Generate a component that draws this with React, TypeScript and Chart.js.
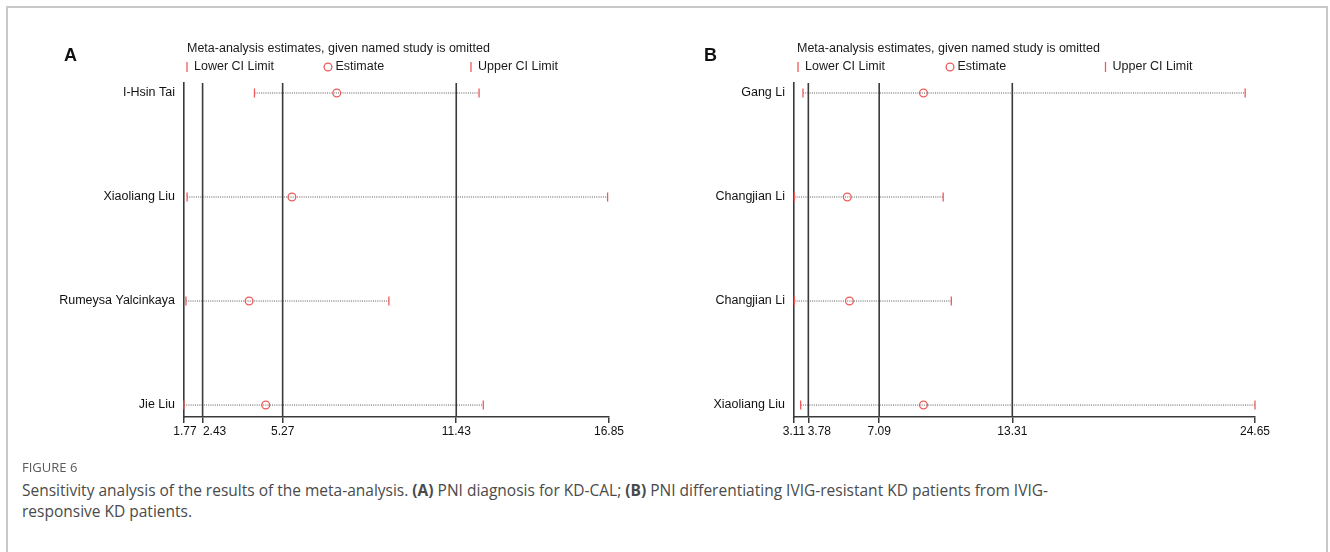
import React, { useEffect, useRef } from "react";
import { Chart, registerables } from "chart.js";

Chart.register(...registerables);

// ---------- DATA ----------
const studiesA = ["I-Hsin Tai", "Xiaoliang Liu", "Rumeysa Yalcinkaya", "Jie Liu"];
const lowerA = [4.27, 1.88, 1.84, 1.77];
const estimateA = [7.19, 5.6, 4.08, 4.67];
const upperA = [12.24, 16.8, 9.04, 12.39];
const refLinesA = [2.43, 5.27, 11.43];
const ticksA = [1.77, 2.43, 5.27, 11.43, 16.85];

const studiesB = ["Gang Li", "Changjian Li", "Changjian Li", "Xiaoliang Liu"];
const lowerB = [3.53, 3.13, 3.13, 3.42];
const estimateB = [9.16, 5.6, 5.7, 9.16];
const upperB = [24.19, 10.08, 10.46, 24.65];
const refLinesB = [3.78, 7.09, 13.31];
const ticksB = [3.11, 3.78, 7.09, 13.31, 24.65];

const chartTitle = "Meta-analysis estimates, given named study is omitted";
const legendLabels = ["Lower CI Limit", "Estimate", "Upper CI Limit"];

// ---------- STYLE ----------
const RED = "#ee5a5a";
const DARK = "#3a3a3a";
const DOT = "#575757";
const FONT = '"Liberation Sans", Arial, sans-serif';
const Y_MIN = 0.904;
const Y_MAX = 4.115;

type PanelCfg = {
  letter: string;
  studies: string[];
  lower: number[];
  estimate: number[];
  upper: number[];
  refLines: number[];
  ticks: number[];
  tickShift: number[];
  left: number;
  axisWidth: number;
  padRight: number;
  titleX: number;
  legendX: number[];
};

const panels: PanelCfg[] = [
  {
    letter: "A",
    studies: studiesA,
    lower: lowerA,
    estimate: estimateA,
    upper: upperA,
    refLines: refLinesA,
    ticks: ticksA,
    tickShift: [1, 12, 0, 0, 0],
    left: 40,
    axisWidth: 144,
    padRight: 51,
    titleX: 147,
    legendX: [147, 288, 431],
  },
  {
    letter: "B",
    studies: studiesB,
    lower: lowerB,
    estimate: estimateB,
    upper: upperB,
    refLines: refLinesB,
    ticks: ticksB,
    tickShift: [0, 11, 0, 0, 0],
    left: 680,
    axisWidth: 114,
    padRight: 45,
    titleX: 117,
    legendX: [118, 270, 425.5],
  },
];

const CANVAS_W = 620;
const CANVAS_H = 430;
const CANVAS_TOP = 30;

const headerPlugin = {
  id: "header",
  afterDraw(chart: any, _args: any, opts: any) {
    const ctx = chart.ctx as CanvasRenderingContext2D;
    ctx.save();
    ctx.fillStyle = "#111";
    ctx.textBaseline = "middle";
    ctx.textAlign = "left";
    ctx.font = `bold 18px ${FONT}`;
    ctx.fillText(opts.letter, 24, 26);
    ctx.font = `12.5px ${FONT}`;
    ctx.fillStyle = "#1a1a1a";
    ctx.fillText(opts.title, opts.titleX, 19);
    const ly = 37;
    (opts.items as { label: string; kind: string; x: number }[]).forEach((it) => {
      ctx.strokeStyle = RED;
      ctx.lineWidth = 1.3;
      ctx.beginPath();
      if (it.kind === "tick") {
        ctx.moveTo(it.x, ly - 5);
        ctx.lineTo(it.x, ly + 5);
      } else {
        ctx.arc(it.x, ly, 3.9, 0, Math.PI * 2);
      }
      ctx.stroke();
      ctx.fillStyle = "#1a1a1a";
      ctx.fillText(it.label, it.x + (it.kind === "tick" ? 7 : 7.5), ly);
    });
    // x tick labels, placed at the scale's pixel for each tick value
    const xs = chart.scales.x;
    ctx.font = `12px ${FONT}`;
    ctx.fillStyle = "#111";
    ctx.textAlign = "center";
    ctx.textBaseline = "top";
    (opts.ticks as number[]).forEach((v, i) => {
      const px = xs.getPixelForValue(v) + (opts.tickShift[i] || 0);
      ctx.fillText(v.toFixed(2), px, xs.top + 9);
    });
    ctx.restore();
  },
};

function buildConfig(p: PanelCfg): any {
  const datasets: any[] = [];
  p.studies.forEach((_, i) => {
    datasets.push({
      type: "line",
      label: "ci" + i,
      data: [
        { x: p.lower[i], y: i + 1 },
        { x: p.upper[i], y: i + 1 },
      ],
      borderColor: DOT,
      borderWidth: 1,
      borderDash: [1, 1.2],
      pointRadius: 0,
      order: 5,
    });
  });
  p.refLines.forEach((v, i) => {
    datasets.push({
      type: "line",
      label: "ref" + i,
      data: [
        { x: v, y: Y_MIN },
        { x: v, y: Y_MAX },
      ],
      borderColor: DARK,
      borderWidth: 1.6,
      pointRadius: 0,
      clip: false,
      order: 4,
    });
  });
  const pointSet = (label: string, vals: number[], style: string) => ({
    type: "scatter",
    label,
    data: vals.map((v, i) => ({ x: v, y: i + 1 })),
    pointStyle: style,
    pointRotation: style === "line" ? 90 : 0,
    pointRadius: style === "line" ? 4.5 : 3.9,
    pointBorderColor: RED,
    pointBackgroundColor: "rgba(0,0,0,0)",
    pointBorderWidth: 1.3,
    borderColor: RED,
    backgroundColor: "rgba(0,0,0,0)",
    clip: false,
    order: 1,
  });
  datasets.push(pointSet(legendLabels[0], p.lower, "line"));
  datasets.push(pointSet(legendLabels[1], p.estimate, "circle"));
  datasets.push(pointSet(legendLabels[2], p.upper, "line"));

  const xMin = p.ticks[0];
  const xMax = p.ticks[p.ticks.length - 1];

  return {
    type: "scatter",
    data: { datasets },
    options: {
      animation: false,
      responsive: false,
      devicePixelRatio: 1,
      events: [],
      layout: { padding: { left: 0, right: p.padRight, top: 53, bottom: 13 } },
      plugins: {
        legend: { display: false },
        tooltip: { enabled: false },
        title: { display: false },
        header: {
          letter: p.letter,
          title: chartTitle,
          titleX: p.titleX,
          ticks: p.ticks,
          tickShift: p.tickShift,
          items: [
            { label: legendLabels[0], kind: "tick", x: p.legendX[0] },
            { label: legendLabels[1], kind: "circle", x: p.legendX[1] },
            { label: legendLabels[2], kind: "tick", x: p.legendX[2] },
          ],
        },
      },
      scales: {
        x: {
          type: "linear",
          min: xMin,
          max: xMax,
          afterBuildTicks: (s: any) => {
            s.ticks = p.ticks.map((v) => ({ value: v }));
          },
          afterFit: (s: any) => {
            s.height = 30;
          },
          ticks: {
            autoSkip: false,
            maxRotation: 0,
            padding: 3,
            color: "rgba(0,0,0,0)",
            font: { family: FONT, size: 12 },
            callback: (v: number) => v.toFixed(2),
          },
          grid: {
            display: true,
            drawOnChartArea: false,
            drawTicks: true,
            tickLength: 6,
            color: DARK,
            lineWidth: 1.5,
          },
          border: { display: true, color: DARK, width: 1.5 },
        },
        y: {
          type: "linear",
          reverse: true,
          min: Y_MIN,
          max: Y_MAX,
          afterBuildTicks: (s: any) => {
            s.ticks = p.studies.map((_, i) => ({ value: i + 1 }));
          },
          afterFit: (s: any) => {
            s.width = p.axisWidth;
          },
          ticks: {
            autoSkip: false,
            padding: 9,
            color: "#111",
            font: { family: FONT, size: 12.5 },
            callback: (v: number) => p.studies[Math.round(v) - 1] ?? "",
          },
          grid: { display: false, drawTicks: false },
          border: { display: true, color: DARK, width: 1.6 },
        },
      },
    },
    plugins: [headerPlugin],
  };
}

function Panel({ cfg }: { cfg: PanelCfg }) {
  const ref = useRef<HTMLCanvasElement | null>(null);
  useEffect(() => {
    if (!ref.current) return;
    const chart = new Chart(ref.current, buildConfig(cfg));
    return () => chart.destroy();
  }, [cfg]);
  return (
    <canvas
      ref={ref}
      width={CANVAS_W}
      height={CANVAS_H}
      style={{
        position: "absolute",
        left: cfg.left,
        top: CANVAS_TOP,
        width: CANVAS_W,
        height: CANVAS_H,
      }}
    />
  );
}

export default function App() {
  const capFont = '"Open Sans", "Noto Sans", sans-serif';
  return (
    <div
      style={{
        position: "absolute",
        left: 0,
        top: 0,
        width: 1330,
        height: 552,
        overflow: "hidden",
        background: "#fff",
      }}
    >
      <div
        style={{
          position: "absolute",
          left: 6,
          top: 6,
          width: 1322,
          height: 560,
          boxSizing: "border-box",
          borderTop: "2px solid #c8c8c8",
          borderLeft: "2px solid #c8c8c8",
          borderRight: "2px solid #c8c8c8",
        }}
      />
      {panels.map((p) => (
        <Panel key={p.letter} cfg={p} />
      ))}
      <div
        style={{
          position: "absolute",
          left: 22,
          top: 459,
          fontFamily: capFont,
          fontSize: 13,
          lineHeight: "16px",
          color: "#5a5a5a",
          whiteSpace: "nowrap",
        }}
      >
        FIGURE 6
      </div>
      <div
        style={{
          position: "absolute",
          left: 22,
          top: 480,
          fontFamily: capFont,
          fontSize: 15.5,
          lineHeight: "21px",
          color: "#4a4a4a",
          whiteSpace: "nowrap",
        }}
      >
        Sensitivity analysis of the results of the meta-analysis. <b>(A)</b> PNI diagnosis for KD-CAL;{" "}
        <b>(B)</b> PNI differentiating IVIG-resistant KD patients from IVIG-
        <br />
        responsive KD patients.
      </div>
    </div>
  );
}
